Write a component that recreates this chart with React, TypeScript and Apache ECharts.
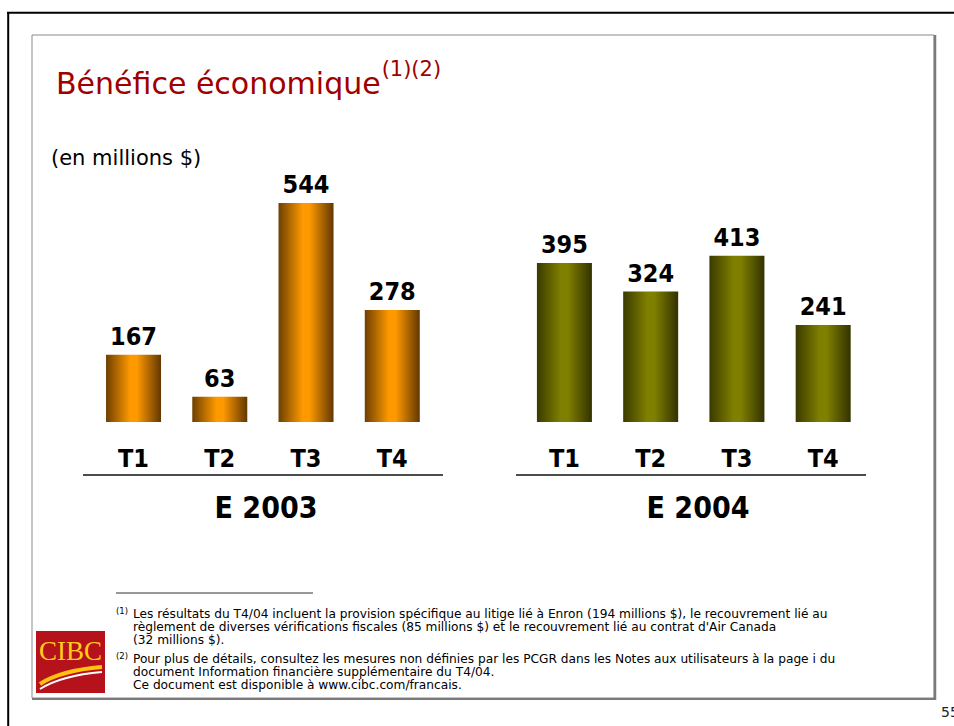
import React, { useEffect, useRef } from 'react';
import * as echarts from 'echarts';

const quarters = ['T1', 'T2', 'T3', 'T4'];
const years = ['E 2003', 'E 2004'];
const values2003 = [167, 63, 544, 278];
const values2004 = [395, 324, 413, 241];
const titleText = 'Bénéfice économique';
const titleNotes = '(1)(2)';
const unitLabel = '(en millions $)';
const note1Mark = '(1)';
const note1Lines = [
  'Les résultats du T4/04 incluent la provision spécifique au litige lié à Enron (194 millions $), le recouvrement lié au',
  "règlement de diverses vérifications fiscales (85 millions $) et le recouvrement lié au contrat d'Air Canada",
  '(32 millions $).',
];
const note2Mark = '(2)';
const note2Lines = [
  'Pour plus de détails, consultez les mesures non définies par les PCGR dans les Notes aux utilisateurs à la page i du',
  'document Information financière supplémentaire du T4/04.',
  'Ce document est disponible à www.cibc.com/francais.',
];
const logoText = 'CIBC';
const pageNumber = '55';

const COND = "'DejaVu Sans Condensed', 'DejaVu Sans', sans-serif";
const SANS = "'DejaVu Sans', sans-serif";

function barGradient(left: string, mid: string, right: string) {
  return new echarts.graphic.LinearGradient(0, 0, 1, 0, [
    { offset: 0, color: left },
    { offset: 0.44, color: mid },
    { offset: 0.56, color: mid },
    { offset: 1, color: right },
  ]);
}

export default function App() {
  const ref = useRef<HTMLDivElement>(null);
  useEffect(() => {
    if (!ref.current) return;
    const chart = echarts.init(ref.current, undefined, { renderer: 'svg' });
    const gridTop = 180.4;
    const gridH = 241.6;
    const grids = [
      { left: 90.4, top: gridTop, width: 345, height: gridH },
      { left: 521.3, top: gridTop, width: 345, height: gridH },
    ];
    const xAxisCommon = {
      type: 'category' as const,
      data: quarters,
      axisLine: { show: false },
      axisTick: { show: false },
      axisLabel: { fontSize: 25, fontWeight: 'bold' as const, color: '#000', margin: 24, fontFamily: COND },
    };
    const labelCommon = {
      show: true,
      position: 'top' as const,
      distance: 6,
      fontSize: 25,
      fontWeight: 'bold' as const,
      color: '#000',
      fontFamily: COND,
    };
    const footLines: any[] = [];
    const pitch = 13;
    const y0 = 614;
    const fs = 12.2;
    const textX = 133;
    const markX = 116;
    note1Lines.forEach((t, i) => {
      footLines.push({ type: 'text', x: textX, y: y0 + i * pitch, style: { text: t, fontSize: fs, fontFamily: SANS, fill: '#000', verticalAlign: 'middle' } });
    });
    const y2 = y0 + 2 * pitch + 19;
    note2Lines.forEach((t, i) => {
      footLines.push({ type: 'text', x: textX, y: y2 + i * pitch, style: { text: t, fontSize: fs, fontFamily: SANS, fill: '#000', verticalAlign: 'middle' } });
    });
    footLines.push({ type: 'text', x: markX, y: y0 - 3, style: { text: note1Mark, fontSize: 8.5, fontFamily: SANS, fill: '#000', verticalAlign: 'middle' } });
    footLines.push({ type: 'text', x: markX, y: y2 - 3, style: { text: note2Mark, fontSize: 8.5, fontFamily: SANS, fill: '#000', verticalAlign: 'middle' } });

    const groupCenters = [266, 698];

    chart.setOption({
      animation: false,
      backgroundColor: '#fff',
      grid: grids,
      xAxis: [
        { ...xAxisCommon, gridIndex: 0 },
        { ...xAxisCommon, gridIndex: 1 },
      ],
      yAxis: [
        { type: 'value', gridIndex: 0, min: 0, max: 600, show: false },
        { type: 'value', gridIndex: 1, min: 0, max: 600, show: false },
      ],
      series: [
        {
          type: 'bar', xAxisIndex: 0, yAxisIndex: 0, data: values2003, barWidth: 55,
          itemStyle: { color: barGradient('#6E3F00', '#FF9900', '#623700') },
          label: labelCommon,
        },
        {
          type: 'bar', xAxisIndex: 1, yAxisIndex: 1, data: values2004, barWidth: 55,
          itemStyle: { color: barGradient('#3A3A00', '#808000', '#323200') },
          label: labelCommon,
        },
      ],
      graphic: [
        // outer L frame
        { type: 'line', shape: { x1: 7, y1: 12.8, x2: 954, y2: 12.8 }, style: { stroke: '#000', lineWidth: 2 } },
        { type: 'line', shape: { x1: 8.2, y1: 12, x2: 8.2, y2: 726 }, style: { stroke: '#000', lineWidth: 2 } },
        // inner box
        { type: 'rect', shape: { x: 32, y: 35, width: 902, height: 663 }, style: { fill: 'none', stroke: '#8a8a8a', lineWidth: 1 } },
        { type: 'line', shape: { x1: 935, y1: 35, x2: 935, y2: 700 }, style: { stroke: '#7a7a7a', lineWidth: 2.5 } },
        { type: 'line', shape: { x1: 32, y1: 699, x2: 936, y2: 699 }, style: { stroke: '#7a7a7a', lineWidth: 2 } },
        // title
        {
          type: 'text', left: 56, top: 58,
          style: {
            text: '{t|' + titleText + '}{s|' + titleNotes + '}',
            rich: {
              t: { fontSize: 30, fontFamily: SANS, fill: '#A00000', padding: [10, 0, 0, 0], textShadowColor: 'rgba(60,0,0,0.3)', textShadowOffsetX: 1, textShadowOffsetY: 1 },
              s: { fontSize: 21, fontFamily: SANS, fill: '#A00000', verticalAlign: 'top', padding: [0, 0, 14, 1] },
            },
          },
        },
        { type: 'text', x: 51, y: 158, style: { text: unitLabel, fontSize: 21, fontFamily: SANS, fill: '#000', verticalAlign: 'middle' } },
        // group underlines
        { type: 'line', shape: { x1: 83, y1: 475, x2: 443, y2: 475 }, style: { stroke: '#111', lineWidth: 1.5 } },
        { type: 'line', shape: { x1: 516, y1: 475, x2: 866, y2: 475 }, style: { stroke: '#111', lineWidth: 1.5 } },
        ...years.map((y, i) => ({
          type: 'text', x: groupCenters[i], y: 507,
          style: { text: y, fontSize: 30, fontWeight: 'bold', fontFamily: COND, fill: '#000', align: 'center', verticalAlign: 'middle' },
        })),
        // footnote separator
        { type: 'line', shape: { x1: 116, y1: 593, x2: 313, y2: 593 }, style: { stroke: '#333', lineWidth: 1 } },
        ...footLines,
        // logo
        { type: 'rect', shape: { x: 36, y: 631, width: 69, height: 62 }, style: { fill: '#B5121B' } },
        { type: 'text', x: 70.5, y: 651, style: { text: logoText, fontSize: 27, fontFamily: "'Liberation Serif', serif", fill: '#FFCC1A', align: 'center', verticalAlign: 'middle' } },
        { type: 'bezierCurve', shape: { x1: 40, y1: 684, cpx1: 55, cpy1: 674, cpx2: 78, cpy2: 669, x2: 102, y2: 667 }, style: { stroke: '#FFC20E', lineWidth: 4, fill: 'none' } },
        { type: 'bezierCurve', shape: { x1: 40, y1: 689, cpx1: 56, cpy1: 679, cpx2: 78, cpy2: 674, x2: 102, y2: 672 }, style: { stroke: '#FFFFFF', lineWidth: 2, fill: 'none' } },
        // page number
        { type: 'text', left: 941, top: 705, style: { text: pageNumber, fontSize: 14, fontFamily: SANS, fill: '#222' } },
      ],
    });
    return () => chart.dispose();
  }, []);
  return <div ref={ref} style={{ position: 'absolute', left: 0, top: 0, width: 954, height: 726 }} />;
}
